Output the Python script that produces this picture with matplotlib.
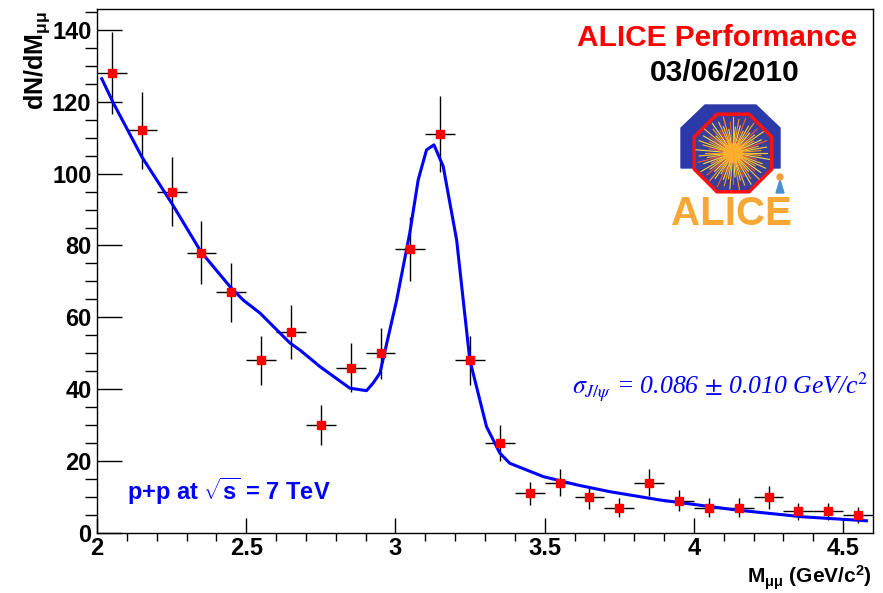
import matplotlib
matplotlib.use("Agg")
import matplotlib.pyplot as plt
import numpy as np
from matplotlib.patches import Polygon, Circle

plt.rcParams['font.family'] = ['Liberation Sans', 'DejaVu Sans']
plt.rcParams['mathtext.fontset'] = 'custom'
plt.rcParams['mathtext.rm'] = 'Liberation Sans:bold'
plt.rcParams['mathtext.it'] = 'Liberation Sans:bold'
plt.rcParams['mathtext.bf'] = 'Liberation Sans:bold'

# dimuon invariant mass bins (bin centres) and counts
mass = [2.05, 2.15, 2.25, 2.35, 2.45, 2.55, 2.65, 2.75, 2.85, 2.95,
        3.05, 3.15, 3.25, 3.35, 3.45, 3.55, 3.65, 3.75, 3.85, 3.95,
        4.05, 4.15, 4.25, 4.35, 4.45, 4.55]
counts = [128, 112, 95, 78, 67, 48, 56, 30, 46, 50,
          79, 111, 48, 25, 11, 14, 10, 7, 14, 9,
          7, 7, 10, 6, 6, 5]
count_err = [11.3, 10.6, 9.7, 8.8, 8.2, 6.9, 7.5, 5.5, 6.8, 7.1,
             8.9, 10.5, 6.9, 5.0, 3.3, 3.7, 3.2, 2.6, 3.7, 3.0,
             2.6, 2.6, 3.2, 2.4, 2.4, 2.2]
bin_half = 0.05

# fit curve (background + J/psi peak)
fit_x = [2.016, 2.055, 2.15, 2.25, 2.348, 2.445, 2.49, 2.546, 2.646, 2.68,
         2.747, 2.847, 2.903, 2.925, 2.948, 3.004, 3.048, 3.076, 3.104, 3.129,
         3.16, 3.205, 3.249, 3.305, 3.35, 3.383, 3.495, 3.607, 3.718, 3.885,
         4.142, 4.365, 4.578]
fit_y = [126.4, 119.6, 104.7, 91.8, 78.3, 68.6, 64.8, 61.2, 52.9, 50.9,
         46.3, 40.3, 39.6, 41.7, 44.5, 64.8, 83.5, 98.2, 106.6, 108.0,
         102.0, 81.5, 48.2, 29.6, 22.2, 19.4, 15.7, 13.4, 11.5, 9.2,
         6.4, 4.5, 3.4]

fig = plt.figure(figsize=(8.83, 5.93), dpi=100)
ax = fig.add_axes([97 / 883, 60 / 593, 776 / 883, 524 / 593])

ax.errorbar(mass, counts, xerr=bin_half, yerr=count_err, fmt='none',
            ecolor='black', elinewidth=1.0, capsize=0, zorder=2)
ax.plot(fit_x, fit_y, color='#0000ff', lw=2.2, zorder=3)
ax.plot(mass, counts, 's', color='#ff0000', ms=5.5, mec='#ff0000', zorder=4)

ax.set_xlim(2, 4.6)
ax.set_ylim(0, 145.8)
ax.set_xticks([2, 2.5, 3, 3.5, 4, 4.5])
ax.set_xticklabels(['2', '2.5', '3', '3.5', '4', '4.5'])
ax.set_xticks(np.arange(2.1, 4.6, 0.1), minor=True)
ax.set_yticks(range(0, 141, 20))
ax.set_yticks(range(5, 146, 5), minor=True)
ax.tick_params(axis='both', direction='in', labelsize=17, colors='black')
ax.tick_params(axis='y', which='major', length=18, width=1, pad=4)
ax.tick_params(axis='y', which='minor', length=9, width=1)
ax.tick_params(axis='x', which='major', length=11, width=1, pad=3)
ax.tick_params(axis='x', which='minor', length=5.5, width=1)
for lab in ax.get_xticklabels() + ax.get_yticklabels():
    lab.set_fontweight('bold')
for sp in ax.spines.values():
    sp.set_linewidth(1.0)

fig.text(37 / 883, 1 - 11 / 593, r'dN/dM$_{\mu\mu}$', rotation=90,
         ha='center', va='top', fontsize=18, fontweight='bold')
fig.text(872 / 883, 1 - 592 / 593, r'M$_{\mu\mu}$ (GeV/c$^{2}$)',
         ha='right', va='bottom', fontsize=15, fontweight='bold')

ax.text(2.1, 11.5, r'p+p at $\sqrt{s}$ = 7 TeV', color='#0000ff',
        fontsize=17, fontweight='bold', va='center', ha='left')
ax.text(4.585, 40.5, r'$\sigma_{J/\psi}$ = 0.086 $\pm$ 0.010 GeV/c$^{2}$',
        color='#0000ff', fontsize=18.5, style='italic',
        family='Liberation Serif', math_fontfamily='stix',
        ha='right', va='center')

fig.text(717 / 883, 1 - 38 / 593, 'ALICE Performance', color='#ff0000',
         fontsize=21.5, fontweight='bold', ha='center', va='center')
fig.text(725 / 883, 1 - 73 / 593, '03/06/2010', color='black',
         fontsize=21.5, fontweight='bold', ha='center', va='center')

# ALICE logo
lg = fig.add_axes([660 / 883, 1 - 232 / 593, 140 / 883, 134 / 593])
lg.set_xlim(660, 800)
lg.set_ylim(232, 98)
lg.axis('off')
arch = [(681, 168), (681, 128), (705, 105), (756, 105), (780, 128), (780, 168)]
lg.add_patch(Polygon(arch, closed=True, color='#2b3aa8', zorder=1))
cx, cy, r = 733, 153, 42
ang = np.radians(22.5 + 45 * np.arange(8))
octo = np.column_stack([cx + r * np.cos(ang), cy + r * np.sin(ang)])
lg.add_patch(Polygon(octo, closed=True, fc='#3a3f9a', ec='#ff1010', lw=2.5, zorder=2))
ray_cols = ['#ffd21f', '#ff9a1f', '#f5e04a', '#ff5a2a', '#ffc030']
ray_len = [34, 28, 37, 24, 31, 36, 26]
for i in range(72):
    a = np.radians(i * 5)
    ln = ray_len[i % len(ray_len)]
    lg.plot([cx, cx + ln * np.cos(a)], [cy, cy + ln * np.sin(a)],
            color=ray_cols[i % len(ray_cols)], lw=0.8, zorder=3)
lg.add_patch(Circle((cx, cy), 9, color='#ffb030', alpha=0.8, zorder=4))
lg.add_patch(Polygon([(776, 193), (784, 193), (780, 180)], closed=True,
                     color='#4a8fd0', zorder=5))
lg.add_patch(Circle((780, 177), 3, color='#f0a040', zorder=5))
lg.text(731, 214, 'ALICE', color='#f7a733', fontsize=29, fontweight='bold',
        ha='center', va='center', zorder=6)

fig.savefig('out.png', dpi=100)
